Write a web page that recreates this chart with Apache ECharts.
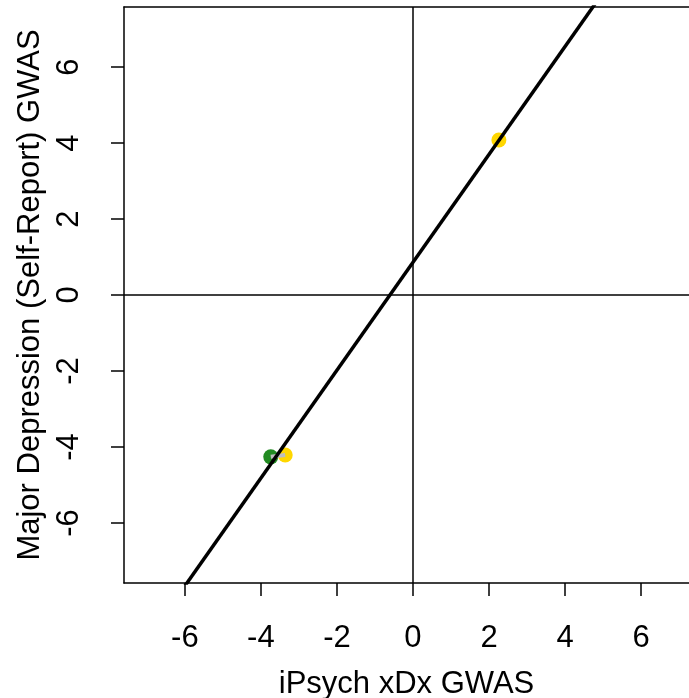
<!DOCTYPE html>
<html>
<head>
<meta charset="utf-8">
<script src="https://cdn.jsdelivr.net/npm/echarts@6/dist/echarts.min.js"></script>
<style>
  html, body { margin: 0; padding: 0; background: #fff; }
  #chart { width: 689px; height: 698px; }
</style>
</head>
<body>
<div id="chart"></div>
<script>
// tick positions on both axes
const tickValues = [-6, -4, -2, 0, 2, 4, 6];

// points
const greenX = [-3.74];
const greenY = [-4.26];
const yellowX = [2.26, -3.36];
const yellowY = [4.08, -4.21];

// fitted line
const lineSlope = 1.42;
const lineIntercept = 0.86;
const lineXs = [-8, 8];

const font = 'Liberation Sans, Arial, sans-serif';

function pairs(xs, ys) {
  return xs.map((x, i) => [x, ys[i]]);
}

// grey connector between the green and the nearest yellow point
const connector = [[greenX[0], greenY[0]], [yellowX[1], yellowY[1]]];

const chart = echarts.init(document.getElementById('chart'));

const lineBlack = { color: '#000', width: 1.5 };

const axisCommon = {
  type: 'value',
  axisLine: { show: true, onZero: false, lineStyle: lineBlack },
  splitLine: { show: false },
  axisTick: {
    show: true,
    length: 13,
    customValues: tickValues,
    lineStyle: lineBlack
  },
  axisLabel: {
    customValues: tickValues,
    fontSize: 31,
    color: '#000',
    fontFamily: font
  },
  nameLocation: 'middle',
  nameTextStyle: { fontSize: 31, color: '#000', fontFamily: font }
};

chart.setOption({
  animation: false,
  backgroundColor: '#fff',
  grid: {
    left: 124,
    top: 7,
    right: 0,
    height: 576,
    outerBoundsMode: 'none',
    containLabel: false
  },
  xAxis: [
    Object.assign({}, axisCommon, {
      min: -7.6,
      max: 7.26,
      name: 'iPsych xDx GWAS',
      nameGap: 86,
      axisLabel: Object.assign({}, axisCommon.axisLabel, { margin: 40 })
    }),
    {
      // top edge of the box
      type: 'value',
      position: 'top',
      min: -7.6,
      max: 7.26,
      axisLine: { show: true, onZero: false, lineStyle: lineBlack },
      axisTick: { show: false },
      axisLabel: { show: false },
      splitLine: { show: false }
    }
  ],
  yAxis: Object.assign({}, axisCommon, {
    min: -7.58,
    max: 7.58,
    name: 'Major Depression (Self-Report) GWAS',
    nameGap: 75,
    axisLabel: Object.assign({}, axisCommon.axisLabel, { rotate: 90, margin: 39 })
  }),
  series: [
    {
      type: 'line',
      data: [],
      silent: true,
      markLine: {
        silent: true,
        symbol: 'none',
        label: { show: false },
        lineStyle: { color: '#000', width: 1.5, type: 'solid' },
        data: [{ xAxis: 0 }, { yAxis: 0 }]
      }
    },
    {
      type: 'scatter',
      data: pairs(greenX, greenY),
      symbolSize: 15,
      z: 3,
      itemStyle: { color: '#228B22', opacity: 1 }
    },
    {
      type: 'scatter',
      data: pairs(yellowX, yellowY),
      symbolSize: 15,
      z: 3,
      itemStyle: { color: '#FFD700', opacity: 1 }
    },
    {
      type: 'line',
      data: connector,
      symbol: 'none',
      z: 4,
      lineStyle: { color: '#BEBEBE', width: 4 }
    },
    {
      type: 'line',
      data: lineXs.map(x => [x, lineIntercept + lineSlope * x]),
      symbol: 'none',
      clip: true,
      z: 5,
      lineStyle: { color: '#000', width: 3.5 }
    }
  ]
});
</script>
</body>
</html>
